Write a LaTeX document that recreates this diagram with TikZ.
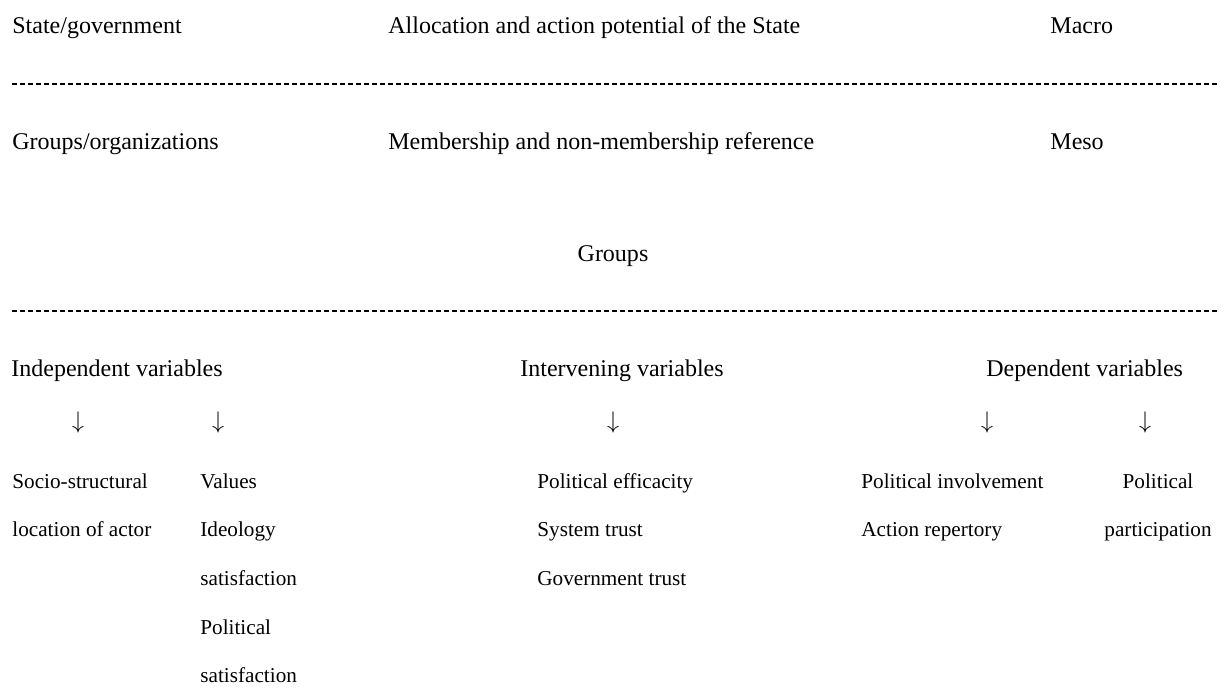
\documentclass[tikz,border=0pt]{standalone}
\usepackage{fontspec}
\setmainfont{Liberation Serif}
\usetikzlibrary{positioning}

\begin{document}
\begin{tikzpicture}[x=0.5pt,y=-0.5pt,
  head/.style={anchor=base west, inner sep=0pt, font=\fontsize{12}{14}\selectfont},
  item/.style={anchor=base west, inner sep=0pt, font=\fontsize{10.6}{12}\selectfont},
  down/.style={inner sep=0pt, font=\fontsize{12}{14}\selectfont},
  sepline/.style={line width=0.75pt, dash pattern=on 2.7pt off 1.3pt}]

\useasboundingbox (0,0) rectangle (1224,688);

% macro level
\node[head] (state) at (12,34) {State/government};
\node[head] (alloc) at (388,34) {Allocation and action potential of the State};
\node[head] (macro) at (1050,34) {Macro};

\coordinate (sepAl) at (12,84);
\coordinate (sepAr) at (1218,84);
\draw[sepline] (sepAl) -- (sepAr);

% meso level
\node[head] (groupsorg) at (12,150) {Groups/organizations};
\node[head] (member) at (388,150) {Membership and non-membership reference};
\node[head] (meso) at (1050,150) {Meso};

\node[head, anchor=base] (groups) at (613,262) {Groups};

\coordinate (sepBl) at (12,311);
\coordinate (sepBr) at (1218,311);
\draw[sepline] (sepBl) -- (sepBr);

% variables
\node[head] (indep) at (11,377) {Independent variables};
\node[head] (interv) at (520,377) {Intervening variables};
\node[head] (dep) at (986,377) {Dependent variables};

% arrows
\node[down] (arrA) at (78,423) {$\downarrow$};
\node[down] (arrB) at (218,423) {$\downarrow$};
\node[down] (arrC) at (613,423) {$\downarrow$};
\node[down] (arrD) at (987,423) {$\downarrow$};
\node[down] (arrE) at (1145,423) {$\downarrow$};

% independent
\node[item] (socio) at (12,489) {Socio-structural};
\node[item] (loc) at (12,537) {location of actor};

\node[item] (values) at (200,489) {Values};
\node[item] (ideo) at (200,537) {Ideology};
\node[item] (satisA) at (200,585) {satisfaction};
\node[item] (polit) at (200,634) {Political};
\node[item] (satisB) at (200,682) {satisfaction};

% intervening
\node[item] (effic) at (537,489) {Political efficacity};
\node[item] (systr) at (537,537) {System trust};
\node[item] (govtr) at (537,585) {Government trust};

% dependent
\node[item] (involv) at (861,489) {Political involvement};
\node[item] (action) at (861,537) {Action repertory};

\node[item, anchor=base] (partA) at (1158,489) {Political};
\node[item, anchor=base] (partB) at (1158,537) {participation};

\end{tikzpicture}
\end{document}
